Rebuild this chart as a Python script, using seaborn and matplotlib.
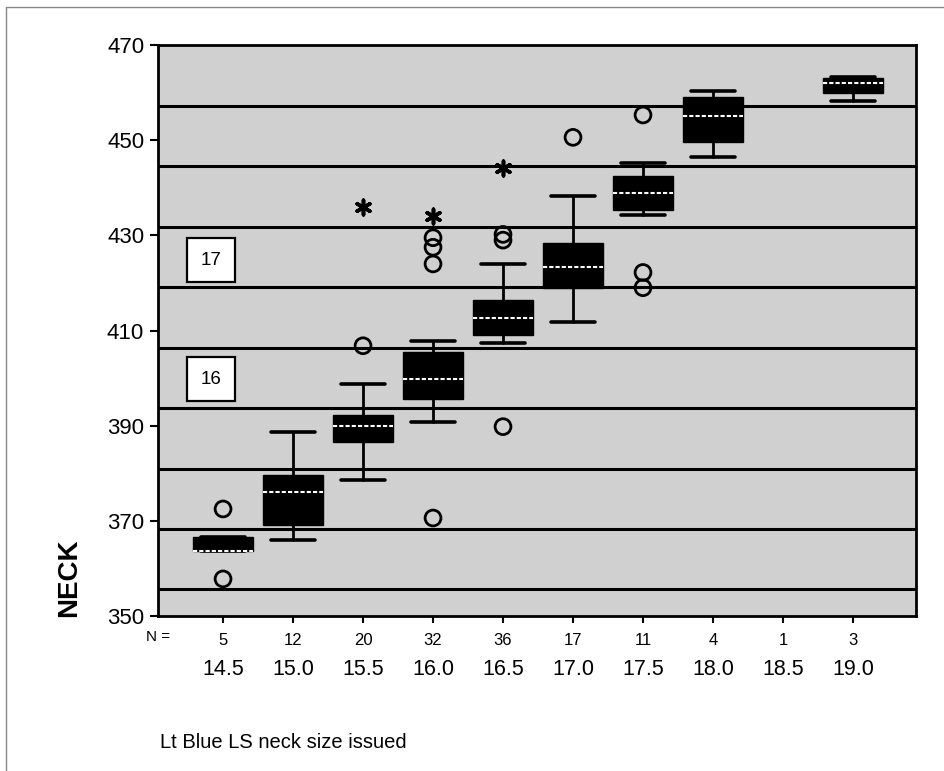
import numpy as np
import pandas as pd
import matplotlib
matplotlib.use("Agg")
import matplotlib.pyplot as plt
import matplotlib.transforms as mtransforms
from matplotlib.lines import Line2D
import seaborn as sns

# neck size issued (inches) and group counts
sizes = ["14.5", "15.0", "15.5", "16.0", "16.5", "17.0", "17.5", "18.0", "18.5", "19.0"]
counts = [5, 12, 20, 32, 36, 17, 11, 4, 1, 3]

# box statistics (NECK, mm); 18.5 has no box drawn
whislo = [363.7, 366.0, 378.6, 390.8, 407.3, 411.7, 434.2, 446.4, np.nan, 458.2]
q1 = [363.7, 369.2, 386.6, 395.7, 409.0, 419.0, 435.3, 449.6, np.nan, 459.9]
med = [363.7, 376.1, 390.0, 399.9, 412.7, 423.3, 438.8, 455.0, np.nan, 462.0]
q3 = [366.6, 379.7, 392.3, 405.4, 416.5, 428.3, 442.4, 459.0, np.nan, 463.0]
whishi = [366.6, 388.7, 398.8, 407.9, 423.9, 438.2, 445.2, 460.3, np.nan, 463.3]

# outliers (circles) and extremes (asterisks)
out_size = ["14.5", "14.5", "15.5", "16.0", "16.0", "16.0", "16.0",
            "16.5", "16.5", "16.5", "17.0", "17.5", "17.5", "17.5"]
out_val = [372.5, 357.8, 406.8, 370.6, 429.5, 427.5, 424.0,
           430.2, 429.0, 389.8, 450.6, 455.3, 422.2, 419.0]
ext_size = ["15.5", "16.0", "16.5"]
ext_val = [435.9, 434.0, 444.1]

# band lines at half-inch collar sizes (mm)
band_mm = [355.6, 368.3, 381.0, 393.7, 406.4, 419.1, 431.8, 444.5, 457.2]
band_labels = ["16", "17"]
band_label_y = [399.8, 424.8]

sns.set_theme(style="ticks")
plt.rcParams["font.family"] = ["Liberation Sans", "DejaVu Sans"]
plt.rcParams["text.color"] = "black"
plt.rcParams["xtick.labelcolor"] = "black"
plt.rcParams["ytick.labelcolor"] = "black"

fig = plt.figure(figsize=(9.44, 7.71), dpi=100)
ax = fig.add_axes([0.1674, 0.2010, 0.8029, 0.7406])
ax.set_facecolor("#d0d0d0")

pos = {s: i for i, s in enumerate(sizes)}

for y in band_mm:
    ax.axhline(y, color="black", lw=2.2, zorder=1)

stats = []
positions = []
for i, s in enumerate(sizes):
    if np.isnan(med[i]):
        continue
    stats.append(dict(label=s, whislo=whislo[i], q1=q1[i], med=med[i],
                      q3=q3[i], whishi=whishi[i], fliers=[]))
    positions.append(i)

ax.bxp(stats, positions=positions, widths=0.86, capwidths=0.62,
       patch_artist=True, showfliers=False, manage_ticks=False,
       boxprops=dict(facecolor="black", edgecolor="black", lw=1),
       medianprops=dict(color="white", lw=1.5, linestyle=(0, (2, 1))),
       whiskerprops=dict(color="black", lw=2),
       capprops=dict(color="black", lw=2.6),
       zorder=3)

outl = pd.DataFrame({"x": [pos[s] for s in out_size], "y": out_val})
ext = pd.DataFrame({"x": [pos[s] for s in ext_size], "y": ext_val})
sns.scatterplot(data=outl, x="x", y="y", ax=ax, marker="o", s=130,
                facecolor="none", edgecolor="black", linewidth=2, zorder=4)
sns.scatterplot(data=ext, x="x", y="y", ax=ax, marker=(6, 2, 0), s=110,
                color="black", edgecolor="black", linewidth=2.6, zorder=4)

for lab, y in zip(band_labels, band_label_y):
    ax.text(-0.17, y, lab, ha="center", va="center", fontsize=13.5, zorder=5,
            bbox=dict(boxstyle="square,pad=0.72", fc="white", ec="black", lw=1.6))

ax.set_xlim(-0.929, 9.9)
ax.set_ylim(350, 470)
ax.set_yticks([350, 370, 390, 410, 430, 450, 470])
ax.set_xticks(range(len(sizes)))
ax.set_xticklabels([str(c) for c in counts])
ax.tick_params(axis="y", labelsize=16, length=6, width=1.5, pad=4, color="black")
ax.tick_params(axis="x", labelsize=12, length=5, width=1.5, pad=7, color="black")
ax.set_xlabel("")
ax.set_ylabel("")
for sp in ax.spines.values():
    sp.set_visible(True)
    sp.set_color("black")
    sp.set_linewidth(2)

trans = mtransforms.blended_transform_factory(ax.transData, ax.transAxes)
for i, s in enumerate(sizes):
    ax.text(i, -0.093, s, transform=trans, ha="center", va="center", fontsize=15.5)
ax.text(-0.929, -0.037, "N =", transform=trans, ha="center", va="center", fontsize=11)

fig.text(0.0731, 0.1997, "NECK", rotation=90, ha="center", va="bottom",
         fontsize=20, fontweight="bold")
fig.text(160 / 944, 0.037, "Lt Blue LS neck size issued", ha="left", va="center",
         fontsize=14.5)

# scanned page frame
fig.add_artist(Line2D([6 / 944, 6 / 944], [0, 1 - 7 / 771], transform=fig.transFigure,
                      color="#888888", lw=1))
fig.add_artist(Line2D([6 / 944, 1], [1 - 7 / 771, 1 - 7 / 771], transform=fig.transFigure,
                      color="#888888", lw=1))

fig.savefig("out.png", dpi=100)
